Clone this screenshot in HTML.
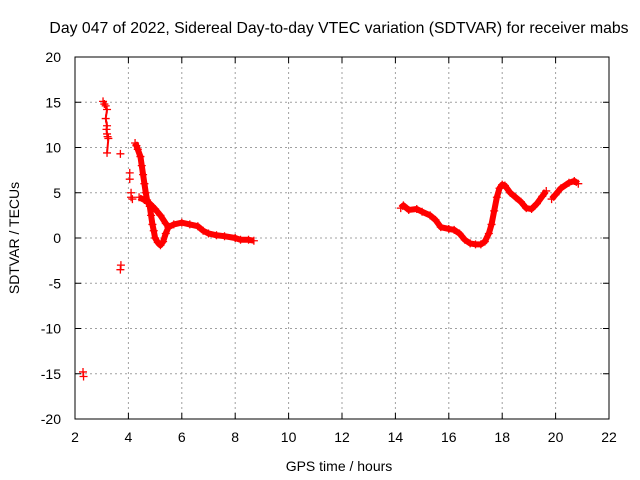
<!DOCTYPE html>
<html><head><meta charset="utf-8">
<style>
body{margin:0;background:#fff;}
svg{display:block;font-family:"Liberation Sans",sans-serif;}
</style></head>
<body>
<svg id="chart" width="640" height="480">
<text x="339" y="33" font-size="15.8" text-anchor="middle">Day 047 of 2022, Sidereal Day-to-day VTEC variation (SDTVAR) for receiver mabs</text>
<text x="339" y="471" font-size="14" text-anchor="middle">GPS time / hours</text>
<text transform="translate(19,238) rotate(-90)" font-size="14" text-anchor="middle">SDTVAR / TECUs</text>
<g id="grid"></g>
<g id="ticks"></g>
<g id="series"></g>
<rect x="75" y="57" width="534" height="362" fill="none" stroke="#000" stroke-width="1"/>
</svg>
<script>
const xTicks=[2,4,6,8,10,12,14,16,18,20,22];
const yTicks=[-20,-15,-10,-5,0,5,10,15,20];
const seg1X=[3.05,3.1,3.15,3.2,3.15,3.2,3.18,3.2,3.22,3.25,3.2];
const seg1Y=[15.1,14.8,14.6,14.2,13.2,12.4,12,11.5,11.2,11,9.4];
const isoX=[3.7,3.72,3.7,2.3,2.32,4.05,4.05,4.1,4.1,4.15];
const isoY=[9.3,-3,-3.5,-14.8,-15.3,7.2,6.5,5,4.5,4.3];
const seg2X=[4.25,4.3,4.35,4.45,4.5,4.55,4.6,4.65,4.7,4.8,4.85,4.9,4.95,5.0,5.1,5.2,5.3,5.4,5.5,5.7,6.0,6.3,6.6,6.8,7.0,7.3,7.6,8.0,8.2,8.5,8.7];
const seg2Y=[10.5,10.2,9.8,9,8,7,6,5,4.2,3.5,2.5,1.5,0.8,0,-0.5,-0.8,-0.4,0.5,1.2,1.5,1.7,1.5,1.3,0.8,0.5,0.3,0.2,0,-0.2,-0.2,-0.3];
const seg3X=[4.4,4.6,4.8,5.0,5.2,5.4,5.5];
const seg3Y=[4.5,4.2,3.8,3.2,2.5,1.6,1.2];
const seg4X=[14.2,14.3,14.5,14.8,15.0,15.3,15.5,15.7,16.0,16.2,16.4,16.6,16.8,17.0,17.2,17.35,17.5,17.6,17.7,17.8,17.9,18.0,18.1,18.3,18.5,18.7,18.9,19.1,19.3,19.5,19.65];
const seg4Y=[3.3,3.6,3.1,3.2,2.9,2.5,2,1.2,1.0,0.9,0.5,-0.2,-0.6,-0.7,-0.7,-0.4,0.5,1.5,3,4.5,5.5,5.9,5.8,5,4.5,4,3.3,3.2,3.8,4.6,5.2];
const seg5X=[19.85,20.0,20.2,20.5,20.7,20.85];
const seg5Y=[4.3,4.8,5.5,6.1,6.3,6.0];

const NS="http://www.w3.org/2000/svg";
const X=v=>75+(v-2)*534/20;
const Y=v=>238-v*9.05;
const grid=document.getElementById('grid'),ticks=document.getElementById('ticks'),ser=document.getElementById('series');
function mk(t,a,p){const e=document.createElementNS(NS,t);for(const k in a)e.setAttribute(k,a[k]);p.appendChild(e);return e;}
xTicks.forEach(v=>{
  if(v>2&&v<22){const g=mk('line',{x1:X(v),x2:X(v),y1:57,y2:419,stroke:'#a0a0a0','stroke-dasharray':'2,3'},grid);
  
  }
  mk('line',{x1:X(v),x2:X(v),y1:419,y2:413,stroke:'#000'},ticks);
  mk('line',{x1:X(v),x2:X(v),y1:57,y2:63,stroke:'#000'},ticks);
  const t=mk('text',{x:X(v),y:442,'font-size':14,'text-anchor':'middle'},ticks);t.textContent=v;
  
  
});
yTicks.forEach(v=>{
  if(v>-20&&v<20){const g=mk('line',{x1:75,x2:609,y1:Y(v),y2:Y(v),stroke:'#a0a0a0','stroke-dasharray':'2,3'},grid);
  
  }
  mk('line',{x1:75,x2:81,y1:Y(v),y2:Y(v),stroke:'#000'},ticks);
  mk('line',{x1:603,x2:609,y1:Y(v),y2:Y(v),stroke:'#000'},ticks);
  const t=mk('text',{x:61,y:Y(v)+5,'font-size':14,'text-anchor':'end'},ticks);t.textContent=v;
  
  
});
function marker(x,y){
  const p=mk('path',{d:`M${X(x)-4},${Y(y)}h8M${X(x)},${Y(y)-4}v8`,stroke:'#f00','stroke-width':1.3},ser);
  
  
}
function line(xs,ys,w){
  const l=mk('polyline',{points:xs.map((x,i)=>X(x)+','+Y(ys[i])).join(' '),fill:'none',stroke:'#f00','stroke-width':w,'stroke-linejoin':'round'},ser);
  
  
  xs.forEach((x,i)=>marker(x,ys[i]));
}
line(seg1X,seg1Y,2);
[[seg2X,seg2Y],[seg3X,seg3Y],[seg4X,seg4Y],[seg5X,seg5Y]].forEach(s=>line(s[0],s[1],6));
isoX.forEach((x,i)=>marker(x,isoY[i]));
</script>
</body></html>
